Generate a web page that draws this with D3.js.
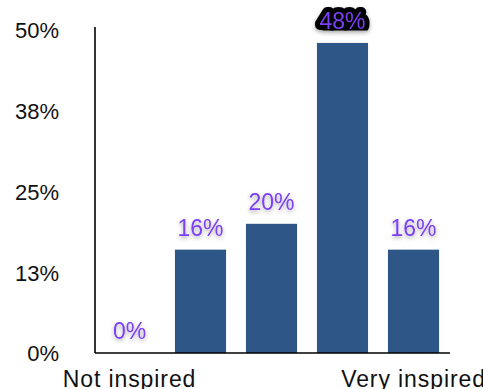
<!DOCTYPE html>
<html>
<head>
<meta charset="utf-8">
<script src="https://cdn.jsdelivr.net/npm/d3@7"></script>
<style>
  html, body { margin: 0; padding: 0; background: #fff; }
  svg { display: block; }
</style>
</head>
<body>
<svg id="chart" width="483" height="389"></svg>
<script>
// Survey responses on a five-point scale, share of respondents (%)
const categories = ["1", "2", "3", "4", "5"];
const values = [0, 16, 20, 48, 16];
const endLabels = ["Not inspired", "", "", "", "Very inspired"];
const tickValues = [0, 12.5, 25, 37.5, 50];
const tickLabels = ["0%", "13%", "25%", "38%", "50%"];

const svg = d3.select("#chart");
const margin = { left: 95, right: 33, top: 30, bottom: 36 };
const W = 483, H = 389;

const x = d3.scaleBand()
  .domain(categories)
  .range([margin.left - 1, W - margin.right - 1])
  .paddingInner(0.28)
  .paddingOuter(0.14);

const y = d3.scaleLinear()
  .domain([0, 50])
  .range([H - margin.bottom, margin.top]);

const defs = svg.append("defs");
const glow = defs.append("filter").attr("id", "glow")
  .attr("x", "-30%").attr("y", "-40%").attr("width", "160%").attr("height", "200%");
glow.append("feDropShadow")
  .attr("dx", 0).attr("dy", 2).attr("stdDeviation", 2.2)
  .attr("flood-color", "#000").attr("flood-opacity", 0.35);

const labelFont = "Liberation Sans, Arial, sans-serif";

// Bars
svg.append("g")
  .selectAll("rect")
  .data(values)
  .join("rect")
  .attr("x", (d, i) => x(categories[i]))
  .attr("width", x.bandwidth())
  .attr("y", d => y(d))
  .attr("height", d => y(0) - y(d))
  .attr("fill", "#2e5788");

// Y axis
const yAxis = d3.axisLeft(y)
  .tickValues(tickValues)
  .tickFormat((d, i) => tickLabels[i])
  .tickSize(0)
  .tickPadding(36);
const gy = svg.append("g")
  .attr("transform", `translate(${margin.left},0)`)
  .call(yAxis);
gy.select(".domain").attr("stroke", "#000").attr("stroke-width", 1.6)
  .attr("d", `M0,${y(50) - 3}V${y(0)}`);
gy.selectAll("text")
  .attr("font-family", labelFont)
  .attr("font-size", 22)
  .attr("fill", "#111")
  .attr("dy", "0.36em");

// X axis
const xAxis = d3.axisBottom(x)
  .tickFormat((d, i) => endLabels[i])
  .tickSize(0)
  .tickPadding(18);
const gx = svg.append("g")
  .attr("transform", `translate(0,${y(0)})`)
  .call(xAxis);
gx.select(".domain").attr("stroke", "#000").attr("stroke-width", 1.6)
  .attr("d", `M${margin.left},0H${W - margin.right}`);
gx.selectAll("text")
  .attr("font-family", labelFont)
  .attr("font-size", 23)
  .attr("letter-spacing", 0.9)
  .attr("fill", "#111");

// Value labels
const labels = svg.append("g");
const maxV = d3.max(values);
values.forEach((v, i) => {
  const cx = x(categories[i]) + x.bandwidth() / 2;
  const by = y(v) - 14;
  const txt = v + "%";
  const g = labels.append("g").attr("filter", "url(#glow)");
  const t = g.append("text")
    .attr("x", cx).attr("y", by)
    .attr("text-anchor", "middle")
    .attr("font-family", labelFont)
    .attr("font-size", 23)
    .attr("fill", "#7b3ff5")
    .text(txt);
  if (v === maxV) {
    // dark outline behind the top label, cut flat at the baseline
    const clipId = "clipTop" + i;
    defs.append("clipPath").attr("id", clipId)
      .append("rect").attr("x", cx - 60).attr("y", by - 40).attr("width", 120).attr("height", 41.5);
    t.attr("stroke", "#000")
      .attr("stroke-width", 10)
      .attr("stroke-linejoin", "round")
      .attr("paint-order", "stroke")
      .attr("clip-path", `url(#${clipId})`);
  }
});
</script>
</body>
</html>
